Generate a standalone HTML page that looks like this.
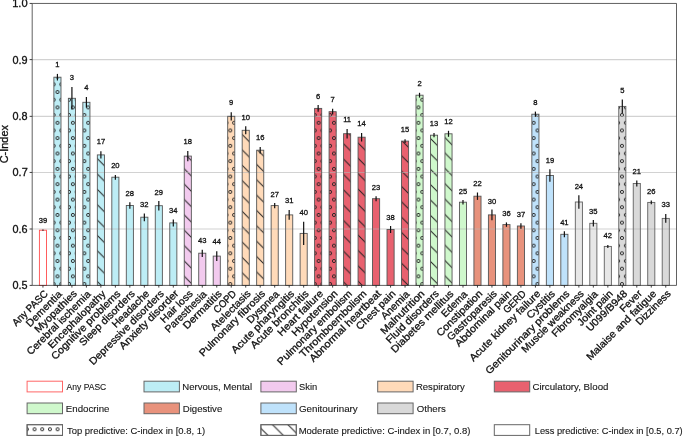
<!DOCTYPE html><html><head><meta charset="utf-8"><style>html,body{margin:0;padding:0;background:#fff;}svg{display:block;will-change:transform;}text{font-family:"Liberation Sans",sans-serif;stroke:#111;stroke-width:0.3px;}text.lg{stroke-width:0.12px;}</style></head><body>
<svg width="685" height="437" viewBox="0 0 685 437">
<defs>
<pattern id="hc" patternUnits="userSpaceOnUse" x="57.5" y="230.3" width="7.68" height="15.36">
<circle cx="0.00" cy="0.00" r="1.55" fill="none" stroke="#222" stroke-width="0.95"/>
<circle cx="7.68" cy="0.00" r="1.55" fill="none" stroke="#222" stroke-width="0.95"/>
<circle cx="0.00" cy="15.36" r="1.55" fill="none" stroke="#222" stroke-width="0.95"/>
<circle cx="7.68" cy="15.36" r="1.55" fill="none" stroke="#222" stroke-width="0.95"/>
<circle cx="3.84" cy="7.68" r="1.55" fill="none" stroke="#222" stroke-width="0.95"/>
</pattern>
<pattern id="hl" patternUnits="userSpaceOnUse" x="0" y="-0.1" width="15.36" height="15.36">
<path d="M-2,-2L17.36,17.36M-17.36,-2L2,17.36M13.36,-2L32.72,17.36" stroke="#222" stroke-width="1" fill="none"/>
</pattern>
<pattern id="hll" patternUnits="userSpaceOnUse" x="0" y="-1.5" width="15.36" height="15.36">
<path d="M-2,-2L17.36,17.36M-17.36,-2L2,17.36M13.36,-2L32.72,17.36" stroke="#222" stroke-width="1" fill="none"/>
</pattern>
<pattern id="hcl" patternUnits="userSpaceOnUse" x="3.84" y="-0.78" width="7.68" height="15.36">
<circle cx="0.00" cy="0.00" r="1.55" fill="none" stroke="#222" stroke-width="0.95"/>
<circle cx="7.68" cy="0.00" r="1.55" fill="none" stroke="#222" stroke-width="0.95"/>
<circle cx="0.00" cy="15.36" r="1.55" fill="none" stroke="#222" stroke-width="0.95"/>
<circle cx="7.68" cy="15.36" r="1.55" fill="none" stroke="#222" stroke-width="0.95"/>
<circle cx="3.84" cy="7.68" r="1.55" fill="none" stroke="#222" stroke-width="0.95"/>
</pattern>
</defs>
<rect width="685" height="437" fill="#fff"/>
<rect x="39.40" y="230.20" width="7.1" height="55.20" fill="#ffffff"/>
<rect x="53.88" y="77.20" width="7.1" height="208.20" fill="#bdedf5"/>
<rect x="53.88" y="77.20" width="7.1" height="208.20" fill="url(#hc)"/>
<rect x="68.37" y="98.30" width="7.1" height="187.10" fill="#bdedf5"/>
<rect x="68.37" y="98.30" width="7.1" height="187.10" fill="url(#hc)"/>
<rect x="82.85" y="102.30" width="7.1" height="183.10" fill="#bdedf5"/>
<rect x="82.85" y="102.30" width="7.1" height="183.10" fill="url(#hc)"/>
<rect x="97.34" y="154.90" width="7.1" height="130.50" fill="#bdedf5"/>
<rect x="97.34" y="154.90" width="7.1" height="130.50" fill="url(#hl)"/>
<rect x="111.82" y="177.20" width="7.1" height="108.20" fill="#bdedf5"/>
<rect x="126.30" y="205.50" width="7.1" height="79.90" fill="#bdedf5"/>
<rect x="140.79" y="217.20" width="7.1" height="68.20" fill="#bdedf5"/>
<rect x="155.27" y="205.70" width="7.1" height="79.70" fill="#bdedf5"/>
<rect x="169.76" y="222.90" width="7.1" height="62.50" fill="#bdedf5"/>
<rect x="184.24" y="156.10" width="7.1" height="129.30" fill="#f2caee"/>
<rect x="184.24" y="156.10" width="7.1" height="129.30" fill="url(#hl)"/>
<rect x="198.72" y="253.20" width="7.1" height="32.20" fill="#f2caee"/>
<rect x="213.21" y="256.10" width="7.1" height="29.30" fill="#f2caee"/>
<rect x="227.69" y="116.30" width="7.1" height="169.10" fill="#ffdab9"/>
<rect x="227.69" y="116.30" width="7.1" height="169.10" fill="url(#hc)"/>
<rect x="242.18" y="130.30" width="7.1" height="155.10" fill="#ffdab9"/>
<rect x="242.18" y="130.30" width="7.1" height="155.10" fill="url(#hl)"/>
<rect x="256.66" y="150.20" width="7.1" height="135.20" fill="#ffdab9"/>
<rect x="256.66" y="150.20" width="7.1" height="135.20" fill="url(#hl)"/>
<rect x="271.14" y="205.60" width="7.1" height="79.80" fill="#ffdab9"/>
<rect x="285.63" y="214.90" width="7.1" height="70.50" fill="#ffdab9"/>
<rect x="300.11" y="233.40" width="7.1" height="52.00" fill="#ffdab9"/>
<rect x="314.60" y="108.40" width="7.1" height="177.00" fill="#e8616f"/>
<rect x="314.60" y="108.40" width="7.1" height="177.00" fill="url(#hc)"/>
<rect x="329.08" y="111.70" width="7.1" height="173.70" fill="#e8616f"/>
<rect x="329.08" y="111.70" width="7.1" height="173.70" fill="url(#hc)"/>
<rect x="343.56" y="133.70" width="7.1" height="151.70" fill="#e8616f"/>
<rect x="343.56" y="133.70" width="7.1" height="151.70" fill="url(#hl)"/>
<rect x="358.05" y="137.20" width="7.1" height="148.20" fill="#e8616f"/>
<rect x="358.05" y="137.20" width="7.1" height="148.20" fill="url(#hl)"/>
<rect x="372.53" y="198.70" width="7.1" height="86.70" fill="#e8616f"/>
<rect x="387.02" y="229.50" width="7.1" height="55.90" fill="#e8616f"/>
<rect x="401.50" y="141.10" width="7.1" height="144.30" fill="#e8616f"/>
<rect x="401.50" y="141.10" width="7.1" height="144.30" fill="url(#hl)"/>
<rect x="415.98" y="95.20" width="7.1" height="190.20" fill="#cff8cc"/>
<rect x="415.98" y="95.20" width="7.1" height="190.20" fill="url(#hc)"/>
<rect x="430.47" y="135.20" width="7.1" height="150.20" fill="#cff8cc"/>
<rect x="430.47" y="135.20" width="7.1" height="150.20" fill="url(#hl)"/>
<rect x="444.95" y="133.80" width="7.1" height="151.60" fill="#cff8cc"/>
<rect x="444.95" y="133.80" width="7.1" height="151.60" fill="url(#hl)"/>
<rect x="459.44" y="202.20" width="7.1" height="83.20" fill="#cff8cc"/>
<rect x="473.92" y="196.20" width="7.1" height="89.20" fill="#e8927c"/>
<rect x="488.40" y="214.90" width="7.1" height="70.50" fill="#e8927c"/>
<rect x="502.89" y="224.60" width="7.1" height="60.80" fill="#e8927c"/>
<rect x="517.37" y="226.00" width="7.1" height="59.40" fill="#e8927c"/>
<rect x="531.86" y="114.20" width="7.1" height="171.20" fill="#bfe2fb"/>
<rect x="531.86" y="114.20" width="7.1" height="171.20" fill="url(#hc)"/>
<rect x="546.34" y="175.50" width="7.1" height="109.90" fill="#bfe2fb"/>
<rect x="560.82" y="234.30" width="7.1" height="51.10" fill="#bfe2fb"/>
<rect x="575.31" y="202.00" width="7.1" height="83.40" fill="#e7e7e7"/>
<rect x="589.79" y="223.30" width="7.1" height="62.10" fill="#e7e7e7"/>
<rect x="604.28" y="246.40" width="7.1" height="39.00" fill="#e7e7e7"/>
<rect x="618.76" y="106.40" width="7.1" height="179.00" fill="#d9d9d9"/>
<rect x="618.76" y="106.40" width="7.1" height="179.00" fill="url(#hc)"/>
<rect x="633.24" y="183.50" width="7.1" height="101.90" fill="#d9d9d9"/>
<rect x="647.73" y="202.40" width="7.1" height="83.00" fill="#d9d9d9"/>
<rect x="662.21" y="218.40" width="7.1" height="67.00" fill="#d9d9d9"/>
<line x1="32.2" y1="229.00" x2="676.5" y2="229.00" stroke="#b4b4b4" stroke-opacity="0.6" stroke-width="1.1"/>
<line x1="32.2" y1="172.45" x2="676.5" y2="172.45" stroke="#b4b4b4" stroke-opacity="0.6" stroke-width="1.1"/>
<line x1="32.2" y1="116.35" x2="676.5" y2="116.35" stroke="#b4b4b4" stroke-opacity="0.6" stroke-width="1.1"/>
<line x1="32.2" y1="59.60" x2="676.5" y2="59.60" stroke="#b4b4b4" stroke-opacity="0.6" stroke-width="1.1"/>
<rect x="39.40" y="230.20" width="7.1" height="55.20" fill="none" stroke="#ff4d4d" stroke-width="0.9"/>
<rect x="53.88" y="77.20" width="7.1" height="208.20" fill="none" stroke="#555555" stroke-width="0.9"/>
<rect x="68.37" y="98.30" width="7.1" height="187.10" fill="none" stroke="#555555" stroke-width="0.9"/>
<rect x="82.85" y="102.30" width="7.1" height="183.10" fill="none" stroke="#555555" stroke-width="0.9"/>
<rect x="97.34" y="154.90" width="7.1" height="130.50" fill="none" stroke="#555555" stroke-width="0.9"/>
<rect x="111.82" y="177.20" width="7.1" height="108.20" fill="none" stroke="#555555" stroke-width="0.9"/>
<rect x="126.30" y="205.50" width="7.1" height="79.90" fill="none" stroke="#555555" stroke-width="0.9"/>
<rect x="140.79" y="217.20" width="7.1" height="68.20" fill="none" stroke="#555555" stroke-width="0.9"/>
<rect x="155.27" y="205.70" width="7.1" height="79.70" fill="none" stroke="#555555" stroke-width="0.9"/>
<rect x="169.76" y="222.90" width="7.1" height="62.50" fill="none" stroke="#555555" stroke-width="0.9"/>
<rect x="184.24" y="156.10" width="7.1" height="129.30" fill="none" stroke="#555555" stroke-width="0.9"/>
<rect x="198.72" y="253.20" width="7.1" height="32.20" fill="none" stroke="#555555" stroke-width="0.9"/>
<rect x="213.21" y="256.10" width="7.1" height="29.30" fill="none" stroke="#555555" stroke-width="0.9"/>
<rect x="227.69" y="116.30" width="7.1" height="169.10" fill="none" stroke="#555555" stroke-width="0.9"/>
<rect x="242.18" y="130.30" width="7.1" height="155.10" fill="none" stroke="#555555" stroke-width="0.9"/>
<rect x="256.66" y="150.20" width="7.1" height="135.20" fill="none" stroke="#555555" stroke-width="0.9"/>
<rect x="271.14" y="205.60" width="7.1" height="79.80" fill="none" stroke="#555555" stroke-width="0.9"/>
<rect x="285.63" y="214.90" width="7.1" height="70.50" fill="none" stroke="#555555" stroke-width="0.9"/>
<rect x="300.11" y="233.40" width="7.1" height="52.00" fill="none" stroke="#555555" stroke-width="0.9"/>
<rect x="314.60" y="108.40" width="7.1" height="177.00" fill="none" stroke="#555555" stroke-width="0.9"/>
<rect x="329.08" y="111.70" width="7.1" height="173.70" fill="none" stroke="#555555" stroke-width="0.9"/>
<rect x="343.56" y="133.70" width="7.1" height="151.70" fill="none" stroke="#555555" stroke-width="0.9"/>
<rect x="358.05" y="137.20" width="7.1" height="148.20" fill="none" stroke="#555555" stroke-width="0.9"/>
<rect x="372.53" y="198.70" width="7.1" height="86.70" fill="none" stroke="#555555" stroke-width="0.9"/>
<rect x="387.02" y="229.50" width="7.1" height="55.90" fill="none" stroke="#555555" stroke-width="0.9"/>
<rect x="401.50" y="141.10" width="7.1" height="144.30" fill="none" stroke="#555555" stroke-width="0.9"/>
<rect x="415.98" y="95.20" width="7.1" height="190.20" fill="none" stroke="#555555" stroke-width="0.9"/>
<rect x="430.47" y="135.20" width="7.1" height="150.20" fill="none" stroke="#555555" stroke-width="0.9"/>
<rect x="444.95" y="133.80" width="7.1" height="151.60" fill="none" stroke="#555555" stroke-width="0.9"/>
<rect x="459.44" y="202.20" width="7.1" height="83.20" fill="none" stroke="#555555" stroke-width="0.9"/>
<rect x="473.92" y="196.20" width="7.1" height="89.20" fill="none" stroke="#555555" stroke-width="0.9"/>
<rect x="488.40" y="214.90" width="7.1" height="70.50" fill="none" stroke="#555555" stroke-width="0.9"/>
<rect x="502.89" y="224.60" width="7.1" height="60.80" fill="none" stroke="#555555" stroke-width="0.9"/>
<rect x="517.37" y="226.00" width="7.1" height="59.40" fill="none" stroke="#555555" stroke-width="0.9"/>
<rect x="531.86" y="114.20" width="7.1" height="171.20" fill="none" stroke="#555555" stroke-width="0.9"/>
<rect x="546.34" y="175.50" width="7.1" height="109.90" fill="none" stroke="#555555" stroke-width="0.9"/>
<rect x="560.82" y="234.30" width="7.1" height="51.10" fill="none" stroke="#555555" stroke-width="0.9"/>
<rect x="575.31" y="202.00" width="7.1" height="83.40" fill="none" stroke="#606060" stroke-width="0.9"/>
<rect x="589.79" y="223.30" width="7.1" height="62.10" fill="none" stroke="#606060" stroke-width="0.9"/>
<rect x="604.28" y="246.40" width="7.1" height="39.00" fill="none" stroke="#606060" stroke-width="0.9"/>
<rect x="618.76" y="106.40" width="7.1" height="179.00" fill="none" stroke="#606060" stroke-width="0.9"/>
<rect x="633.24" y="183.50" width="7.1" height="101.90" fill="none" stroke="#606060" stroke-width="0.9"/>
<rect x="647.73" y="202.40" width="7.1" height="83.00" fill="none" stroke="#606060" stroke-width="0.9"/>
<rect x="662.21" y="218.40" width="7.1" height="67.00" fill="none" stroke="#606060" stroke-width="0.9"/>
<line x1="42.95" y1="229.60" x2="42.95" y2="230.80" stroke="#111" stroke-width="1.2"/>
<line x1="57.43" y1="73.90" x2="57.43" y2="80.50" stroke="#111" stroke-width="1.2"/>
<line x1="71.92" y1="87.00" x2="71.92" y2="109.60" stroke="#111" stroke-width="1.2"/>
<line x1="86.40" y1="97.00" x2="86.40" y2="107.60" stroke="#111" stroke-width="1.2"/>
<line x1="100.89" y1="151.20" x2="100.89" y2="158.50" stroke="#111" stroke-width="1.2"/>
<line x1="115.37" y1="175.00" x2="115.37" y2="179.70" stroke="#111" stroke-width="1.2"/>
<line x1="129.85" y1="202.30" x2="129.85" y2="208.70" stroke="#111" stroke-width="1.2"/>
<line x1="144.34" y1="213.40" x2="144.34" y2="221.20" stroke="#111" stroke-width="1.2"/>
<line x1="158.82" y1="200.90" x2="158.82" y2="210.60" stroke="#111" stroke-width="1.2"/>
<line x1="173.31" y1="219.40" x2="173.31" y2="226.40" stroke="#111" stroke-width="1.2"/>
<line x1="187.79" y1="151.00" x2="187.79" y2="161.30" stroke="#111" stroke-width="1.2"/>
<line x1="202.27" y1="249.70" x2="202.27" y2="256.90" stroke="#111" stroke-width="1.2"/>
<line x1="216.76" y1="251.20" x2="216.76" y2="261.00" stroke="#111" stroke-width="1.2"/>
<line x1="231.24" y1="112.20" x2="231.24" y2="120.40" stroke="#111" stroke-width="1.2"/>
<line x1="245.73" y1="126.30" x2="245.73" y2="134.30" stroke="#111" stroke-width="1.2"/>
<line x1="260.21" y1="146.90" x2="260.21" y2="153.60" stroke="#111" stroke-width="1.2"/>
<line x1="274.69" y1="202.90" x2="274.69" y2="208.30" stroke="#111" stroke-width="1.2"/>
<line x1="289.18" y1="210.00" x2="289.18" y2="219.80" stroke="#111" stroke-width="1.2"/>
<line x1="303.66" y1="221.80" x2="303.66" y2="245.10" stroke="#111" stroke-width="1.2"/>
<line x1="318.15" y1="105.10" x2="318.15" y2="111.70" stroke="#111" stroke-width="1.2"/>
<line x1="332.63" y1="108.80" x2="332.63" y2="114.60" stroke="#111" stroke-width="1.2"/>
<line x1="347.11" y1="128.90" x2="347.11" y2="138.50" stroke="#111" stroke-width="1.2"/>
<line x1="361.60" y1="132.90" x2="361.60" y2="141.50" stroke="#111" stroke-width="1.2"/>
<line x1="376.08" y1="196.20" x2="376.08" y2="201.20" stroke="#111" stroke-width="1.2"/>
<line x1="390.57" y1="226.00" x2="390.57" y2="233.00" stroke="#111" stroke-width="1.2"/>
<line x1="405.05" y1="139.20" x2="405.05" y2="143.00" stroke="#111" stroke-width="1.2"/>
<line x1="419.53" y1="92.80" x2="419.53" y2="97.60" stroke="#111" stroke-width="1.2"/>
<line x1="434.02" y1="133.10" x2="434.02" y2="137.30" stroke="#111" stroke-width="1.2"/>
<line x1="448.50" y1="130.80" x2="448.50" y2="136.80" stroke="#111" stroke-width="1.2"/>
<line x1="462.99" y1="199.90" x2="462.99" y2="204.50" stroke="#111" stroke-width="1.2"/>
<line x1="477.47" y1="192.50" x2="477.47" y2="199.90" stroke="#111" stroke-width="1.2"/>
<line x1="491.95" y1="209.60" x2="491.95" y2="220.20" stroke="#111" stroke-width="1.2"/>
<line x1="506.44" y1="222.40" x2="506.44" y2="226.80" stroke="#111" stroke-width="1.2"/>
<line x1="520.92" y1="223.30" x2="520.92" y2="228.70" stroke="#111" stroke-width="1.2"/>
<line x1="535.41" y1="111.60" x2="535.41" y2="116.80" stroke="#111" stroke-width="1.2"/>
<line x1="549.89" y1="169.30" x2="549.89" y2="181.70" stroke="#111" stroke-width="1.2"/>
<line x1="564.37" y1="231.30" x2="564.37" y2="237.30" stroke="#111" stroke-width="1.2"/>
<line x1="578.86" y1="195.30" x2="578.86" y2="208.70" stroke="#111" stroke-width="1.2"/>
<line x1="593.34" y1="220.00" x2="593.34" y2="226.60" stroke="#111" stroke-width="1.2"/>
<line x1="607.83" y1="244.90" x2="607.83" y2="247.90" stroke="#111" stroke-width="1.2"/>
<line x1="622.31" y1="99.60" x2="622.31" y2="113.20" stroke="#111" stroke-width="1.2"/>
<line x1="636.79" y1="180.50" x2="636.79" y2="186.50" stroke="#111" stroke-width="1.2"/>
<line x1="651.28" y1="200.50" x2="651.28" y2="204.30" stroke="#111" stroke-width="1.2"/>
<line x1="665.76" y1="214.10" x2="665.76" y2="222.70" stroke="#111" stroke-width="1.2"/>
<text x="42.95" y="222.80" font-size="7.6" text-anchor="middle" fill="#111">39</text>
<text x="57.43" y="67.30" font-size="7.6" text-anchor="middle" fill="#111">1</text>
<text x="71.92" y="80.10" font-size="7.6" text-anchor="middle" fill="#111">3</text>
<text x="86.40" y="90.10" font-size="7.6" text-anchor="middle" fill="#111">4</text>
<text x="100.89" y="144.40" font-size="7.6" text-anchor="middle" fill="#111">17</text>
<text x="115.37" y="168.10" font-size="7.6" text-anchor="middle" fill="#111">20</text>
<text x="129.85" y="196.20" font-size="7.6" text-anchor="middle" fill="#111">28</text>
<text x="144.34" y="207.30" font-size="7.6" text-anchor="middle" fill="#111">32</text>
<text x="158.82" y="194.60" font-size="7.6" text-anchor="middle" fill="#111">29</text>
<text x="173.31" y="213.30" font-size="7.6" text-anchor="middle" fill="#111">34</text>
<text x="187.79" y="143.90" font-size="7.6" text-anchor="middle" fill="#111">18</text>
<text x="202.27" y="242.90" font-size="7.6" text-anchor="middle" fill="#111">43</text>
<text x="216.76" y="244.40" font-size="7.6" text-anchor="middle" fill="#111">44</text>
<text x="231.24" y="105.05" font-size="7.6" text-anchor="middle" fill="#111">9</text>
<text x="245.73" y="119.50" font-size="7.6" text-anchor="middle" fill="#111">10</text>
<text x="260.21" y="140.10" font-size="7.6" text-anchor="middle" fill="#111">16</text>
<text x="274.69" y="196.80" font-size="7.6" text-anchor="middle" fill="#111">27</text>
<text x="289.18" y="203.20" font-size="7.6" text-anchor="middle" fill="#111">31</text>
<text x="303.66" y="215.00" font-size="7.6" text-anchor="middle" fill="#111">40</text>
<text x="318.15" y="98.80" font-size="7.6" text-anchor="middle" fill="#111">6</text>
<text x="332.63" y="102.00" font-size="7.6" text-anchor="middle" fill="#111">7</text>
<text x="347.11" y="122.20" font-size="7.6" text-anchor="middle" fill="#111">11</text>
<text x="361.60" y="126.20" font-size="7.6" text-anchor="middle" fill="#111">14</text>
<text x="376.08" y="190.00" font-size="7.6" text-anchor="middle" fill="#111">23</text>
<text x="390.57" y="219.50" font-size="7.6" text-anchor="middle" fill="#111">38</text>
<text x="405.05" y="132.40" font-size="7.6" text-anchor="middle" fill="#111">15</text>
<text x="419.53" y="86.20" font-size="7.6" text-anchor="middle" fill="#111">2</text>
<text x="434.02" y="126.35" font-size="7.6" text-anchor="middle" fill="#111">13</text>
<text x="448.50" y="124.25" font-size="7.6" text-anchor="middle" fill="#111">12</text>
<text x="462.99" y="193.50" font-size="7.6" text-anchor="middle" fill="#111">25</text>
<text x="477.47" y="186.20" font-size="7.6" text-anchor="middle" fill="#111">22</text>
<text x="491.95" y="204.00" font-size="7.6" text-anchor="middle" fill="#111">30</text>
<text x="506.44" y="216.10" font-size="7.6" text-anchor="middle" fill="#111">36</text>
<text x="520.92" y="216.80" font-size="7.6" text-anchor="middle" fill="#111">37</text>
<text x="535.41" y="104.70" font-size="7.6" text-anchor="middle" fill="#111">8</text>
<text x="549.89" y="162.80" font-size="7.6" text-anchor="middle" fill="#111">19</text>
<text x="564.37" y="224.80" font-size="7.6" text-anchor="middle" fill="#111">41</text>
<text x="578.86" y="189.30" font-size="7.6" text-anchor="middle" fill="#111">24</text>
<text x="593.34" y="213.70" font-size="7.6" text-anchor="middle" fill="#111">35</text>
<text x="607.83" y="238.10" font-size="7.6" text-anchor="middle" fill="#111">42</text>
<text x="622.31" y="93.30" font-size="7.6" text-anchor="middle" fill="#111">5</text>
<text x="636.79" y="174.20" font-size="7.6" text-anchor="middle" fill="#111">21</text>
<text x="651.28" y="194.00" font-size="7.6" text-anchor="middle" fill="#111">26</text>
<text x="665.76" y="207.30" font-size="7.6" text-anchor="middle" fill="#111">33</text>
<path d="M32.2,3.45H676.5V285.4H32.2Z" fill="none" stroke="#333" stroke-width="0.78"/>
<line x1="29.6" y1="285.40" x2="32.2" y2="285.40" stroke="#222" stroke-width="0.85"/>
<text x="12.57" y="289.30" font-size="10.6" textLength="15.07" lengthAdjust="spacingAndGlyphs" fill="#111">0.5</text>
<line x1="29.6" y1="229.00" x2="32.2" y2="229.00" stroke="#222" stroke-width="0.85"/>
<text x="12.57" y="232.90" font-size="10.6" textLength="15.07" lengthAdjust="spacingAndGlyphs" fill="#111">0.6</text>
<line x1="29.6" y1="172.45" x2="32.2" y2="172.45" stroke="#222" stroke-width="0.85"/>
<text x="12.56" y="176.35" font-size="10.6" textLength="15.18" lengthAdjust="spacingAndGlyphs" fill="#111">0.7</text>
<line x1="29.6" y1="116.35" x2="32.2" y2="116.35" stroke="#222" stroke-width="0.85"/>
<text x="12.57" y="120.25" font-size="10.6" textLength="15.07" lengthAdjust="spacingAndGlyphs" fill="#111">0.8</text>
<line x1="29.6" y1="59.60" x2="32.2" y2="59.60" stroke="#222" stroke-width="0.85"/>
<text x="12.56" y="63.50" font-size="10.6" textLength="15.13" lengthAdjust="spacingAndGlyphs" fill="#111">0.9</text>
<line x1="29.6" y1="3.45" x2="32.2" y2="3.45" stroke="#222" stroke-width="0.85"/>
<text x="12.17" y="7.35" font-size="10.6" textLength="15.42" lengthAdjust="spacingAndGlyphs" fill="#111">1.0</text>
<line x1="42.95" y1="285.4" x2="42.95" y2="287.59999999999997" stroke="#222" stroke-width="0.85"/>
<line x1="57.43" y1="285.4" x2="57.43" y2="287.59999999999997" stroke="#222" stroke-width="0.85"/>
<line x1="71.92" y1="285.4" x2="71.92" y2="287.59999999999997" stroke="#222" stroke-width="0.85"/>
<line x1="86.40" y1="285.4" x2="86.40" y2="287.59999999999997" stroke="#222" stroke-width="0.85"/>
<line x1="100.89" y1="285.4" x2="100.89" y2="287.59999999999997" stroke="#222" stroke-width="0.85"/>
<line x1="115.37" y1="285.4" x2="115.37" y2="287.59999999999997" stroke="#222" stroke-width="0.85"/>
<line x1="129.85" y1="285.4" x2="129.85" y2="287.59999999999997" stroke="#222" stroke-width="0.85"/>
<line x1="144.34" y1="285.4" x2="144.34" y2="287.59999999999997" stroke="#222" stroke-width="0.85"/>
<line x1="158.82" y1="285.4" x2="158.82" y2="287.59999999999997" stroke="#222" stroke-width="0.85"/>
<line x1="173.31" y1="285.4" x2="173.31" y2="287.59999999999997" stroke="#222" stroke-width="0.85"/>
<line x1="187.79" y1="285.4" x2="187.79" y2="287.59999999999997" stroke="#222" stroke-width="0.85"/>
<line x1="202.27" y1="285.4" x2="202.27" y2="287.59999999999997" stroke="#222" stroke-width="0.85"/>
<line x1="216.76" y1="285.4" x2="216.76" y2="287.59999999999997" stroke="#222" stroke-width="0.85"/>
<line x1="231.24" y1="285.4" x2="231.24" y2="287.59999999999997" stroke="#222" stroke-width="0.85"/>
<line x1="245.73" y1="285.4" x2="245.73" y2="287.59999999999997" stroke="#222" stroke-width="0.85"/>
<line x1="260.21" y1="285.4" x2="260.21" y2="287.59999999999997" stroke="#222" stroke-width="0.85"/>
<line x1="274.69" y1="285.4" x2="274.69" y2="287.59999999999997" stroke="#222" stroke-width="0.85"/>
<line x1="289.18" y1="285.4" x2="289.18" y2="287.59999999999997" stroke="#222" stroke-width="0.85"/>
<line x1="303.66" y1="285.4" x2="303.66" y2="287.59999999999997" stroke="#222" stroke-width="0.85"/>
<line x1="318.15" y1="285.4" x2="318.15" y2="287.59999999999997" stroke="#222" stroke-width="0.85"/>
<line x1="332.63" y1="285.4" x2="332.63" y2="287.59999999999997" stroke="#222" stroke-width="0.85"/>
<line x1="347.11" y1="285.4" x2="347.11" y2="287.59999999999997" stroke="#222" stroke-width="0.85"/>
<line x1="361.60" y1="285.4" x2="361.60" y2="287.59999999999997" stroke="#222" stroke-width="0.85"/>
<line x1="376.08" y1="285.4" x2="376.08" y2="287.59999999999997" stroke="#222" stroke-width="0.85"/>
<line x1="390.57" y1="285.4" x2="390.57" y2="287.59999999999997" stroke="#222" stroke-width="0.85"/>
<line x1="405.05" y1="285.4" x2="405.05" y2="287.59999999999997" stroke="#222" stroke-width="0.85"/>
<line x1="419.53" y1="285.4" x2="419.53" y2="287.59999999999997" stroke="#222" stroke-width="0.85"/>
<line x1="434.02" y1="285.4" x2="434.02" y2="287.59999999999997" stroke="#222" stroke-width="0.85"/>
<line x1="448.50" y1="285.4" x2="448.50" y2="287.59999999999997" stroke="#222" stroke-width="0.85"/>
<line x1="462.99" y1="285.4" x2="462.99" y2="287.59999999999997" stroke="#222" stroke-width="0.85"/>
<line x1="477.47" y1="285.4" x2="477.47" y2="287.59999999999997" stroke="#222" stroke-width="0.85"/>
<line x1="491.95" y1="285.4" x2="491.95" y2="287.59999999999997" stroke="#222" stroke-width="0.85"/>
<line x1="506.44" y1="285.4" x2="506.44" y2="287.59999999999997" stroke="#222" stroke-width="0.85"/>
<line x1="520.92" y1="285.4" x2="520.92" y2="287.59999999999997" stroke="#222" stroke-width="0.85"/>
<line x1="535.41" y1="285.4" x2="535.41" y2="287.59999999999997" stroke="#222" stroke-width="0.85"/>
<line x1="549.89" y1="285.4" x2="549.89" y2="287.59999999999997" stroke="#222" stroke-width="0.85"/>
<line x1="564.37" y1="285.4" x2="564.37" y2="287.59999999999997" stroke="#222" stroke-width="0.85"/>
<line x1="578.86" y1="285.4" x2="578.86" y2="287.59999999999997" stroke="#222" stroke-width="0.85"/>
<line x1="593.34" y1="285.4" x2="593.34" y2="287.59999999999997" stroke="#222" stroke-width="0.85"/>
<line x1="607.83" y1="285.4" x2="607.83" y2="287.59999999999997" stroke="#222" stroke-width="0.85"/>
<line x1="622.31" y1="285.4" x2="622.31" y2="287.59999999999997" stroke="#222" stroke-width="0.85"/>
<line x1="636.79" y1="285.4" x2="636.79" y2="287.59999999999997" stroke="#222" stroke-width="0.85"/>
<line x1="651.28" y1="285.4" x2="651.28" y2="287.59999999999997" stroke="#222" stroke-width="0.85"/>
<line x1="665.76" y1="285.4" x2="665.76" y2="287.59999999999997" stroke="#222" stroke-width="0.85"/>
<text transform="translate(43.45,289.1) rotate(-45)" x="-45.83" y="7.30" font-size="10.20" textLength="45.66" lengthAdjust="spacingAndGlyphs" fill="#111">Any PASC</text>
<text transform="translate(57.93,289.1) rotate(-45)" x="-46.85" y="7.30" font-size="10.20" textLength="45.98" lengthAdjust="spacingAndGlyphs" fill="#111">Dementia</text>
<text transform="translate(72.42,289.1) rotate(-45)" x="-55.14" y="7.30" font-size="10.20" textLength="55.08" lengthAdjust="spacingAndGlyphs" fill="#111">Myopathies</text>
<text transform="translate(86.90,289.1) rotate(-45)" x="-86.74" y="7.30" font-size="10.20" textLength="85.82" lengthAdjust="spacingAndGlyphs" fill="#111">Cerebral ischemia</text>
<text transform="translate(101.39,289.1) rotate(-45)" x="-77.34" y="7.30" font-size="10.20" textLength="77.01" lengthAdjust="spacingAndGlyphs" fill="#111">Encephalopathy</text>
<text transform="translate(115.87,289.1) rotate(-45)" x="-93.23" y="7.30" font-size="10.20" textLength="93.18" lengthAdjust="spacingAndGlyphs" fill="#111">Cognitive problems</text>
<text transform="translate(130.35,289.1) rotate(-45)" x="-73.94" y="7.30" font-size="10.20" textLength="73.84" lengthAdjust="spacingAndGlyphs" fill="#111">Sleep disorders</text>
<text transform="translate(144.84,289.1) rotate(-45)" x="-48.14" y="7.30" font-size="10.20" textLength="48.11" lengthAdjust="spacingAndGlyphs" fill="#111">Headache</text>
<text transform="translate(159.32,289.1) rotate(-45)" x="-100.60" y="7.30" font-size="10.20" textLength="100.52" lengthAdjust="spacingAndGlyphs" fill="#111">Depressive disorders</text>
<text transform="translate(173.81,289.1) rotate(-45)" x="-78.67" y="7.30" font-size="10.20" textLength="78.89" lengthAdjust="spacingAndGlyphs" fill="#111">Anxiety disorder</text>
<text transform="translate(188.29,289.1) rotate(-45)" x="-41.20" y="7.30" font-size="10.20" textLength="41.10" lengthAdjust="spacingAndGlyphs" fill="#111">Hair loss</text>
<text transform="translate(202.77,289.1) rotate(-45)" x="-55.05" y="7.30" font-size="10.20" textLength="54.16" lengthAdjust="spacingAndGlyphs" fill="#111">Paresthesia</text>
<text transform="translate(217.26,289.1) rotate(-45)" x="-50.11" y="7.30" font-size="10.20" textLength="50.05" lengthAdjust="spacingAndGlyphs" fill="#111">Dermatitis</text>
<text transform="translate(231.74,289.1) rotate(-45)" x="-27.39" y="7.30" font-size="10.20" textLength="27.29" lengthAdjust="spacingAndGlyphs" fill="#111">COPD</text>
<text transform="translate(246.23,289.1) rotate(-45)" x="-52.14" y="7.30" font-size="10.20" textLength="52.08" lengthAdjust="spacingAndGlyphs" fill="#111">Atelectasis</text>
<text transform="translate(260.71,289.1) rotate(-45)" x="-88.57" y="7.30" font-size="10.20" textLength="88.51" lengthAdjust="spacingAndGlyphs" fill="#111">Pulmonary fibrosis</text>
<text transform="translate(275.19,289.1) rotate(-45)" x="-41.91" y="7.30" font-size="10.20" textLength="41.03" lengthAdjust="spacingAndGlyphs" fill="#111">Dyspnea</text>
<text transform="translate(289.68,289.1) rotate(-45)" x="-84.36" y="7.30" font-size="10.20" textLength="84.30" lengthAdjust="spacingAndGlyphs" fill="#111">Acute pharyngitis</text>
<text transform="translate(304.16,289.1) rotate(-45)" x="-77.64" y="7.30" font-size="10.20" textLength="77.56" lengthAdjust="spacingAndGlyphs" fill="#111">Acute bronchitis</text>
<text transform="translate(318.65,289.1) rotate(-45)" x="-60.02" y="7.30" font-size="10.20" textLength="60.06" lengthAdjust="spacingAndGlyphs" fill="#111">Heart failure</text>
<text transform="translate(333.13,289.1) rotate(-45)" x="-60.15" y="7.30" font-size="10.20" textLength="60.02" lengthAdjust="spacingAndGlyphs" fill="#111">Hypotension</text>
<text transform="translate(347.61,289.1) rotate(-45)" x="-101.06" y="7.30" font-size="10.20" textLength="100.94" lengthAdjust="spacingAndGlyphs" fill="#111">Pulmonary embolism</text>
<text transform="translate(362.10,289.1) rotate(-45)" x="-90.06" y="7.30" font-size="10.20" textLength="89.92" lengthAdjust="spacingAndGlyphs" fill="#111">Thromboembolism</text>
<text transform="translate(376.58,289.1) rotate(-45)" x="-96.49" y="7.30" font-size="10.20" textLength="96.38" lengthAdjust="spacingAndGlyphs" fill="#111">Abnormal heartbeat</text>
<text transform="translate(391.07,289.1) rotate(-45)" x="-51.25" y="7.30" font-size="10.20" textLength="51.16" lengthAdjust="spacingAndGlyphs" fill="#111">Chest pain</text>
<text transform="translate(405.55,289.1) rotate(-45)" x="-36.36" y="7.30" font-size="10.20" textLength="35.48" lengthAdjust="spacingAndGlyphs" fill="#111">Anemia</text>
<text transform="translate(420.03,289.1) rotate(-45)" x="-57.70" y="7.30" font-size="10.20" textLength="57.62" lengthAdjust="spacingAndGlyphs" fill="#111">Malnutrition</text>
<text transform="translate(434.52,289.1) rotate(-45)" x="-70.35" y="7.30" font-size="10.20" textLength="70.29" lengthAdjust="spacingAndGlyphs" fill="#111">Fluid disorders</text>
<text transform="translate(449.00,289.1) rotate(-45)" x="-83.69" y="7.30" font-size="10.20" textLength="83.62" lengthAdjust="spacingAndGlyphs" fill="#111">Diabetes mellitus</text>
<text transform="translate(463.49,289.1) rotate(-45)" x="-33.16" y="7.30" font-size="10.20" textLength="32.29" lengthAdjust="spacingAndGlyphs" fill="#111">Edema</text>
<text transform="translate(477.97,289.1) rotate(-45)" x="-60.48" y="7.30" font-size="10.20" textLength="60.38" lengthAdjust="spacingAndGlyphs" fill="#111">Constipation</text>
<text transform="translate(492.45,289.1) rotate(-45)" x="-65.99" y="7.30" font-size="10.20" textLength="65.94" lengthAdjust="spacingAndGlyphs" fill="#111">Gastroparesis</text>
<text transform="translate(506.94,289.1) rotate(-45)" x="-74.97" y="7.30" font-size="10.20" textLength="74.85" lengthAdjust="spacingAndGlyphs" fill="#111">Abdominal pain</text>
<text transform="translate(521.42,289.1) rotate(-45)" x="-27.51" y="7.30" font-size="10.20" textLength="27.39" lengthAdjust="spacingAndGlyphs" fill="#111">GERD</text>
<text transform="translate(535.91,289.1) rotate(-45)" x="-95.76" y="7.30" font-size="10.20" textLength="95.80" lengthAdjust="spacingAndGlyphs" fill="#111">Acute kidney failure</text>
<text transform="translate(550.39,289.1) rotate(-45)" x="-35.27" y="7.30" font-size="10.20" textLength="35.23" lengthAdjust="spacingAndGlyphs" fill="#111">Cystitis</text>
<text transform="translate(564.87,289.1) rotate(-45)" x="-113.83" y="7.30" font-size="10.20" textLength="113.77" lengthAdjust="spacingAndGlyphs" fill="#111">Genitourinary problems</text>
<text transform="translate(579.36,289.1) rotate(-45)" x="-83.35" y="7.30" font-size="10.20" textLength="83.32" lengthAdjust="spacingAndGlyphs" fill="#111">Muscle weakness</text>
<text transform="translate(593.84,289.1) rotate(-45)" x="-61.31" y="7.30" font-size="10.20" textLength="60.41" lengthAdjust="spacingAndGlyphs" fill="#111">Fibromyalgia</text>
<text transform="translate(608.33,289.1) rotate(-45)" x="-45.64" y="7.30" font-size="10.20" textLength="45.55" lengthAdjust="spacingAndGlyphs" fill="#111">Joint pain</text>
<text transform="translate(622.81,289.1) rotate(-45)" x="-53.48" y="7.30" font-size="10.20" textLength="53.25" lengthAdjust="spacingAndGlyphs" fill="#111">U099/B948</text>
<text transform="translate(637.29,289.1) rotate(-45)" x="-26.31" y="7.30" font-size="10.20" textLength="26.49" lengthAdjust="spacingAndGlyphs" fill="#111">Fever</text>
<text transform="translate(651.78,289.1) rotate(-45)" x="-94.14" y="7.30" font-size="10.20" textLength="94.17" lengthAdjust="spacingAndGlyphs" fill="#111">Malaise and fatigue</text>
<text transform="translate(666.26,289.1) rotate(-45)" x="-44.67" y="7.30" font-size="10.20" textLength="44.58" lengthAdjust="spacingAndGlyphs" fill="#111">Dizziness</text>
<text transform="translate(7.6,144.2) rotate(-90)" x="0" y="0" font-size="10.6" text-anchor="middle" textLength="38.12" lengthAdjust="spacingAndGlyphs" fill="#111">C-Index</text>
<rect x="27.10" y="381.20" width="35.4" height="10.7" fill="#ffffff" stroke="#ff6666" stroke-width="1"/>
<text class="lg" x="66.60" y="389.80" font-size="9.8" textLength="39.70" lengthAdjust="spacingAndGlyphs" fill="#1a1a1a">Any PASC</text>
<rect x="144.00" y="381.20" width="35.4" height="10.7" fill="#bdedf5" stroke="#666" stroke-width="1"/>
<text class="lg" x="182.33" y="389.80" font-size="9.8" textLength="69.70" lengthAdjust="spacingAndGlyphs" fill="#1a1a1a">Nervous, Mental</text>
<rect x="260.90" y="381.20" width="35.4" height="10.7" fill="#f2caee" stroke="#666" stroke-width="1"/>
<text class="lg" x="298.98" y="389.80" font-size="9.8" textLength="18.23" lengthAdjust="spacingAndGlyphs" fill="#1a1a1a">Skin</text>
<rect x="377.70" y="381.20" width="35.4" height="10.7" fill="#ffdab9" stroke="#666" stroke-width="1"/>
<text class="lg" x="415.94" y="389.80" font-size="9.8" textLength="48.74" lengthAdjust="spacingAndGlyphs" fill="#1a1a1a">Respiratory</text>
<rect x="494.30" y="381.20" width="35.4" height="10.7" fill="#e8616f" stroke="#666" stroke-width="1"/>
<text class="lg" x="532.41" y="389.80" font-size="9.8" textLength="76.05" lengthAdjust="spacingAndGlyphs" fill="#1a1a1a">Circulatory, Blood</text>
<rect x="27.10" y="403.00" width="35.4" height="10.7" fill="#cff8cc" stroke="#666" stroke-width="1"/>
<text class="lg" x="65.82" y="412.00" font-size="9.8" textLength="43.64" lengthAdjust="spacingAndGlyphs" fill="#1a1a1a">Endocrine</text>
<rect x="144.00" y="403.00" width="35.4" height="10.7" fill="#e8927c" stroke="#666" stroke-width="1"/>
<text class="lg" x="182.73" y="412.00" font-size="9.8" textLength="39.53" lengthAdjust="spacingAndGlyphs" fill="#1a1a1a">Digestive</text>
<rect x="260.90" y="403.00" width="35.4" height="10.7" fill="#bfe2fb" stroke="#666" stroke-width="1"/>
<text class="lg" x="298.91" y="412.00" font-size="9.8" textLength="58.87" lengthAdjust="spacingAndGlyphs" fill="#1a1a1a">Genitourinary</text>
<rect x="377.70" y="403.00" width="35.4" height="10.7" fill="#d9d9d9" stroke="#666" stroke-width="1"/>
<text class="lg" x="416.77" y="412.00" font-size="9.8" textLength="28.98" lengthAdjust="spacingAndGlyphs" fill="#1a1a1a">Others</text>
<rect x="27.10" y="424.70" width="35.4" height="10.7" fill="#fff" stroke="#666" stroke-width="1"/>
<rect x="27.10" y="424.70" width="35.4" height="10.7" fill="url(#hcl)" stroke="#666" stroke-width="1"/>
<text class="lg" x="67.01" y="434.40" font-size="9.8" textLength="138.09" lengthAdjust="spacingAndGlyphs" fill="#1a1a1a">Top predictive: C-index in [0.8, 1)</text>
<rect x="260.90" y="424.70" width="35.4" height="10.7" fill="#fff" stroke="#666" stroke-width="1"/>
<rect x="260.90" y="424.70" width="35.4" height="10.7" fill="url(#hll)" stroke="#666" stroke-width="1"/>
<text class="lg" x="298.64" y="434.40" font-size="9.8" textLength="171.78" lengthAdjust="spacingAndGlyphs" fill="#1a1a1a">Moderate predictive: C-index in [0.7, 0.8)</text>
<rect x="494.30" y="424.70" width="35.4" height="10.7" fill="#fff" stroke="#666" stroke-width="1"/>
<text class="lg" x="534.76" y="434.40" font-size="9.8" textLength="147.92" lengthAdjust="spacingAndGlyphs" fill="#1a1a1a">Less predictive: C-index in [0.5, 0.7)</text>
</svg></body></html>
